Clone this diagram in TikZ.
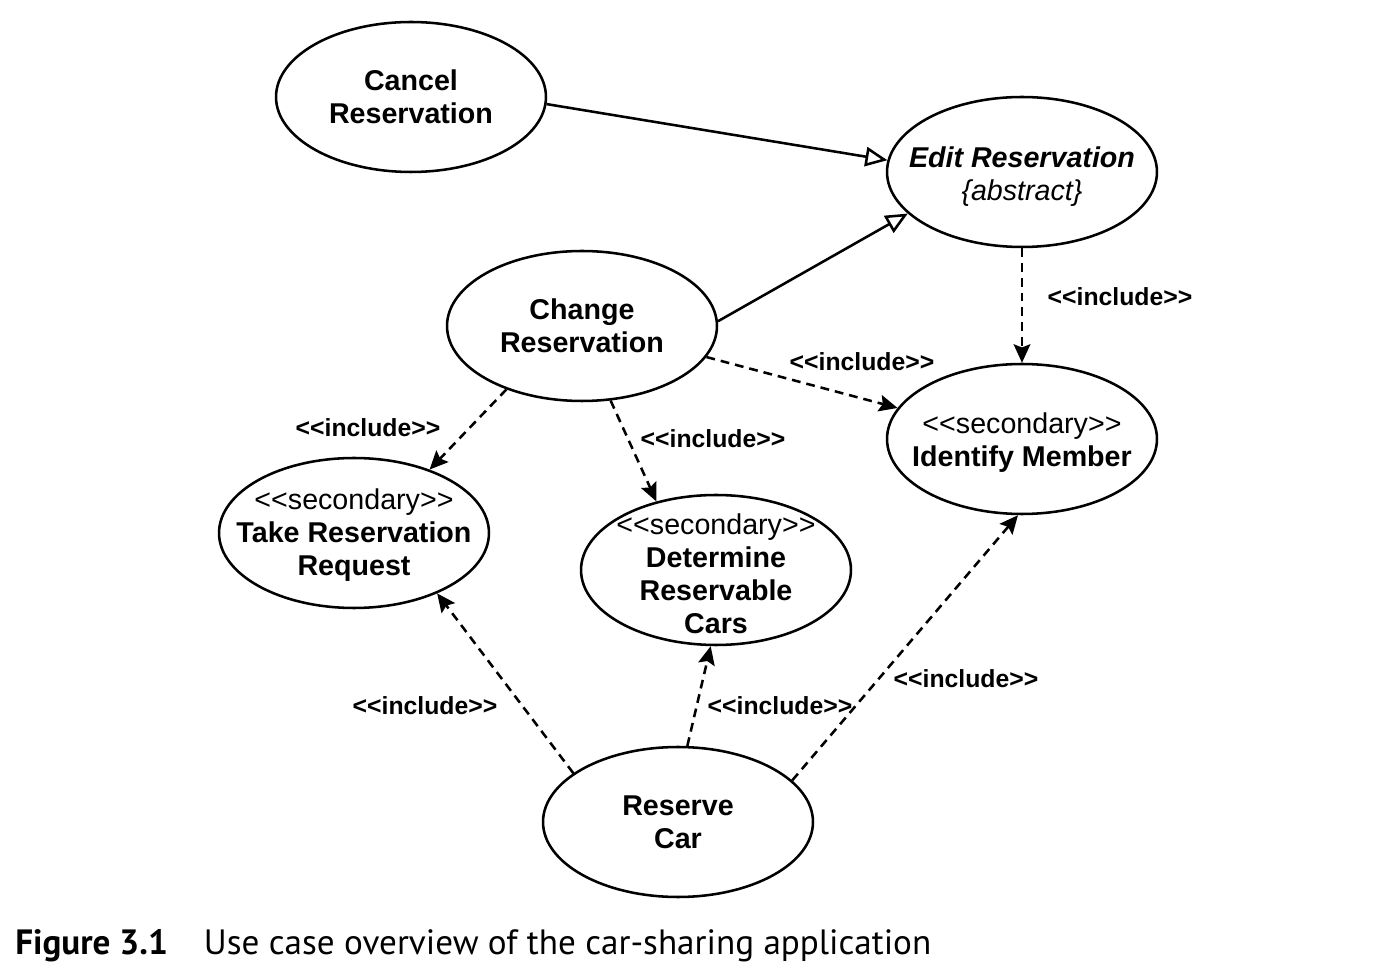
\documentclass[tikz,border=0pt]{standalone}
\usepackage{fontspec}
\newfontfamily\ucfont{Liberation Sans}
\newfontfamily\capfont{PT Sans}
\usetikzlibrary{shapes.geometric, arrows.meta, positioning}
\tikzset{
    usecase/.style={ellipse, draw, line width=1.45pt, minimum width=5.4cm, minimum height=3cm, inner sep=0pt},
    uctext/.style={align=center, font=\ucfont\bfseries\fontsize{16.3}{18.7}\selectfont},
    incl/.style={font=\ucfont\bfseries\fontsize{14.1}{16}\selectfont},
    inc/.style={line width=1.45pt, dash pattern=on 5pt off 3.4pt, -{Stealth[length=10.5pt, width=9.5pt, inset=1.8pt]}},
    gen/.style={line width=1.45pt, -{Triangle[open, length=12.5pt, width=11pt]}}
}
\begin{document}
\begin{tikzpicture}[x=0.02cm, y=-0.02cm]
        \useasboundingbox (0, 0) rectangle (1374, 976);

        % Use cases
        \node (cancel) [usecase] at (411, 97) {};
        \node (cancel_t) [uctext] at (cancel) {Cancel\\Reservation};
        \node (edit) [usecase] at (1022, 172) {};
        \node (edit_t) [uctext] at (1022, 177) {\itshape Edit Reservation\\{\mdseries\itshape \{abstract\}}};
        \node (change) [usecase] at (582, 326) {};
        \node (change_t) [uctext] at (change) {Change\\Reservation};
        \node (identify) [usecase] at (1022, 439) {};
        \node (identify_t) [uctext] at (1022, 443) {{\mdseries <<secondary>>}\\Identify Member};
        \node (take) [usecase] at (354, 533) {};
        \node (take_t) [uctext] at (354, 535) {{\mdseries <<secondary>>}\\Take Reservation\\Request};
        \node (determine) [usecase] at (716, 570) {};
        \node (determine_t) [uctext] at (716, 574) {{\mdseries <<secondary>>}\\Determine\\Reservable\\Cars};
        \node (reserve) [usecase] at (678, 822) {};
        \node (reserve_t) [uctext] at (reserve) {Reserve\\Car};

        % Generalisation
        \draw[gen] (cancel.-3) -- (edit.175);
        \draw[gen] (change.2) -- (edit.200);

        % Include relations
        \draw[inc] (edit.south) -- (identify.north);
        \draw[inc] (change.-14) -- (identify.166);
        \draw[inc] (change.220) -- (take.40);
        \draw[inc] (change.-69) -- (determine.131);
        \draw[inc] (reserve.155) -- (take.-36);
        \draw[inc] (reserve.83) -- (determine.-94);
        \draw[inc] (reserve.20) -- (identify.-93);

        \node (inc1) [incl] at (1120, 297) {<<include>>};
        \node (inc2) [incl] at (862, 362) {<<include>>};
        \node (inc3) [incl] at (368, 428) {<<include>>};
        \node (inc4) [incl] at (713, 439) {<<include>>};
        \node (inc5) [incl] at (425, 706) {<<include>>};
        \node (inc6) [incl] at (780, 706) {<<include>>};
        \node (inc7) [incl] at (966, 679) {<<include>>};

        % Caption
        \node (caption) [anchor=west, inner sep=0pt, font=\capfont\fontsize{20}{22}\selectfont] at (15, 946) {\textbf{Figure 3.1}\hspace{0.72cm}Use case overview of the car-sharing application};
    \end{tikzpicture}
\end{document}
